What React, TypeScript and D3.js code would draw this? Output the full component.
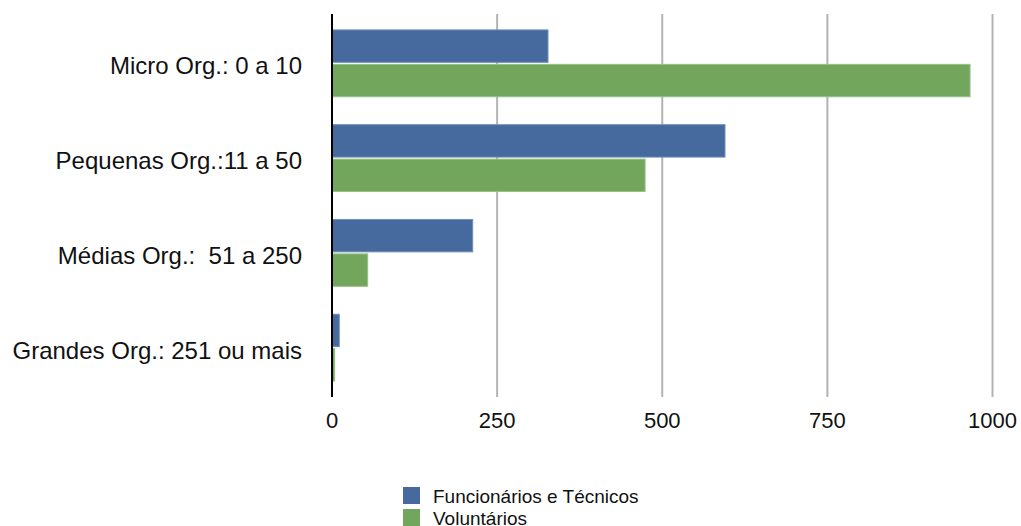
import React from 'react';
import * as d3 from 'd3';

const categories = [
  'Micro Org.: 0 a 10',
  'Pequenas Org.:11 a 50',
  'Médias Org.:  51 a 250',
  'Grandes Org.: 251 ou mais',
];
const seriesNames = ['Funcionários e Técnicos', 'Voluntários'];
const funcionarios = [327, 595, 213, 11];
const voluntarios = [966, 474, 54, 4];
const ticks = [0, 250, 500, 750, 1000];

const colors = ['#466a9d', '#72a65d'];
const borders = ['#6e8cb8', '#95c283'];

const width = 1021;
const height = 526;
const margin = { top: 14, left: 332, right: 28.5, bottom: 129 };

export default function App() {
  const x = d3.scaleLinear().domain([0, 1000]).range([margin.left, width - margin.right]);
  const y = d3
    .scaleBand<string>()
    .domain(categories)
    .range([margin.top, height - margin.bottom])
    .paddingInner(0.295)
    .paddingOuter(0.168);
  const sub = d3.scaleBand<number>().domain([0, 1]).range([0, y.bandwidth()]).paddingInner(0.06);
  const series = [funcionarios, voluntarios];

  return (
    <svg
      width={width}
      height={height}
      style={{ position: 'absolute', left: 0, top: 0, fontFamily: 'Liberation Sans, Arial, sans-serif' }}
    >
      <rect width={width} height={height} fill="#fff" />
      {ticks.slice(1).map((t) => (
        <line key={t} x1={x(t)} x2={x(t)} y1={margin.top} y2={height - margin.bottom} stroke="#b3b3b3" strokeWidth={2} />
      ))}
      {categories.map((c, i) => (
        <g key={c}>
          {series.map((s, j) => (
            <rect
              key={j}
              x={x(0)}
              y={(y(c) as number) + (sub(j) as number)}
              width={x(s[i]) - x(0)}
              height={sub.bandwidth()}
              fill={colors[j]}
              stroke={borders[j]}
              strokeWidth={1}
            />
          ))}
          <text
            x={302}
            y={(y(c) as number) + y.bandwidth() / 2 + 11}
            textAnchor="end"
            fontSize={24}
            fill="#111"
            style={{ whiteSpace: 'pre' }}
          >
            {c}
          </text>
        </g>
      ))}
      <line x1={x(0)} x2={x(0)} y1={margin.top} y2={height - margin.bottom} stroke="#000" strokeWidth={2} />
      {ticks.map((t) => (
        <text key={t} x={x(t)} y={428} textAnchor="middle" fontSize={22} fill="#111">
          {t}
        </text>
      ))}
      {seriesNames.map((n, j) => (
        <g key={n} transform={`translate(403,${487 + j * 22})`}>
          <rect width={17} height={17} fill={colors[j]} />
          <text x={30} y={16} fontSize={19} fill="#111">
            {n}
          </text>
        </g>
      ))}
    </svg>
  );
}
